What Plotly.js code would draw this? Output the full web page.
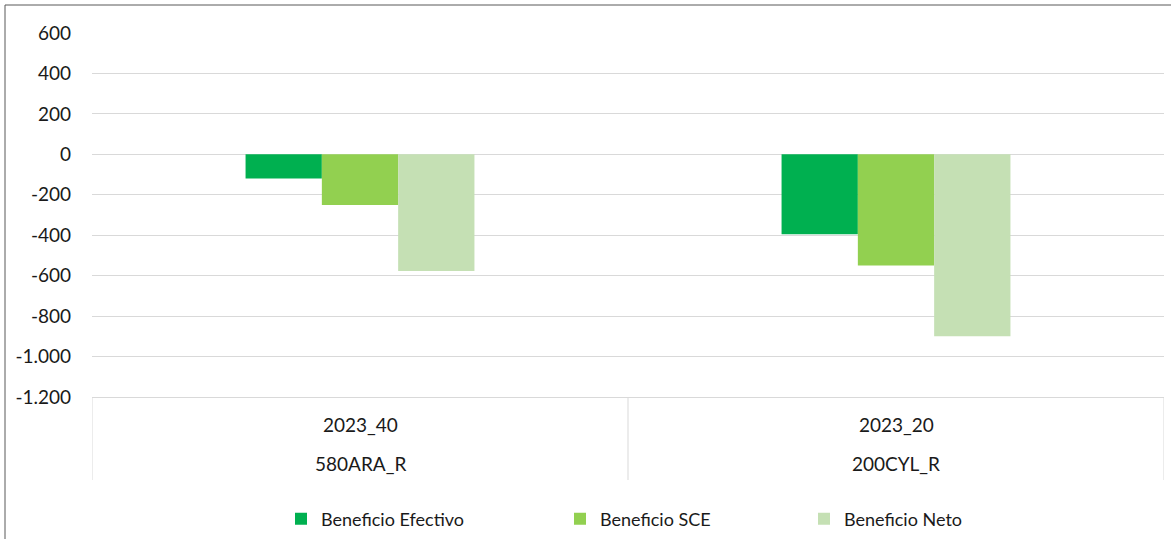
<!DOCTYPE html>
<html>
<head>
<meta charset="utf-8">
<script src="https://cdn.plot.ly/plotly-3.0.1.min.js"></script>
<style>html,body{margin:0;padding:0;background:#fff;}#chart{width:1171px;height:539px;}</style>
</head>
<body>
<div id="chart"></div>
<script>
// Data
const categoriesOuter = ["580ARA_R", "200CYL_R"];
const categoriesInner = ["2023_40", "2023_20"];
const seriesNames = ["Beneficio Efectivo", "Beneficio SCE", "Beneficio Neto"];
const beneficioEfectivo = [-120, -395];
const beneficioSCE = [-250, -550];
const beneficioNeto = [-577, -900];
const tickVals = [600, 400, 200, 0, -200, -400, -600, -800, -1000, -1200];
const tickText = ["600", "400", "200", "0", "-200", "-400", "-600", "-800", "-1.000", "-1.200"];

const colors = ["#00B050", "#92D050", "#C5E0B4"];
const seriesValues = [beneficioEfectivo, beneficioSCE, beneficioNeto];
const legendIds = ["legend", "legend2", "legend3"];

const FONT = "Lato, 'Liberation Sans', sans-serif";

const traces = seriesValues.map((vals, i) => ({
  type: "bar",
  name: seriesNames[i],
  x: categoriesOuter,
  y: vals,
  marker: {color: colors[i], line: {width: 0}},
  legend: legendIds[i],
  hoverinfo: "none"
}));

// pixel helpers for plot area
const L = 92, R = 1164, T = 33, B = 397;
const W = R - L, H = B - T;
const px = v => (v - L) / W;
const py = v => (B - v) / H;

const annotations = [];
categoriesOuter.forEach((c, i) => {
  annotations.push({x: c, xref: "x", y: py(424), yref: "paper", text: categoriesInner[i], showarrow: false,
    xanchor: "center", yanchor: "middle", font: {family: FONT, size: 19, color: "#1a1a1a"}});
  annotations.push({x: c, xref: "x", y: py(463), yref: "paper", text: c, showarrow: false,
    xanchor: "center", yanchor: "middle", font: {family: FONT, size: 19, color: "#1a1a1a"}});
});

const shapes = [];
[-0.5, 0.5, 1.5].forEach(v => {
  shapes.push({type: "line", xref: "x", yref: "paper", x0: v, x1: v, y0: 0, y1: py(480),
    line: {color: "#D9D9D9", width: 1}});
});
// outer frame (left and top edges visible)
shapes.push({type: "line", xref: "paper", yref: "paper", x0: px(5), x1: px(5), y0: py(5), y1: py(545),
  line: {color: "#595959", width: 1}});
shapes.push({type: "line", xref: "paper", yref: "paper", x0: px(5), x1: px(1180), y0: py(5), y1: py(5),
  line: {color: "#595959", width: 1}});

const legendX = [281, 560, 804];
const legendCommon = i => ({
  orientation: "h", x: px(legendX[i]), xanchor: "left", y: py(519), yanchor: "middle",
  font: {family: FONT, size: 18, color: "#1a1a1a"}, bgcolor: "rgba(0,0,0,0)", itemclick: false
});

const layout = {
  width: 1171, height: 539,
  margin: {l: L, r: 1171 - R, t: T, b: 539 - B, autoexpand: false},
  paper_bgcolor: "#fff", plot_bgcolor: "#fff",
  barmode: "group", bargap: 0.573, bargroupgap: 0,
  showlegend: true,
  legend: legendCommon(0), legend2: legendCommon(1), legend3: legendCommon(2),
  xaxis: {type: "category", range: [-0.5, 1.5], showticklabels: false, showgrid: false,
    zeroline: false, showline: true, linecolor: "#D9D9D9", linewidth: 1, ticks: "", fixedrange: true},
  yaxis: {range: [-1200, 600], tickmode: "array", tickvals: tickVals, ticktext: tickText,
    showgrid: true, gridcolor: "#D9D9D9", gridwidth: 1, zeroline: true, zerolinecolor: "#D9D9D9",
    zerolinewidth: 1, showline: false, ticks: "", ticklabelstandoff: 20,
    tickfont: {family: FONT, size: 19, color: "#1a1a1a"}, fixedrange: true},
  annotations: annotations,
  shapes: shapes
};

Plotly.newPlot("chart", traces, layout, {displayModeBar: false, staticPlot: true});
</script>
</body>
</html>
